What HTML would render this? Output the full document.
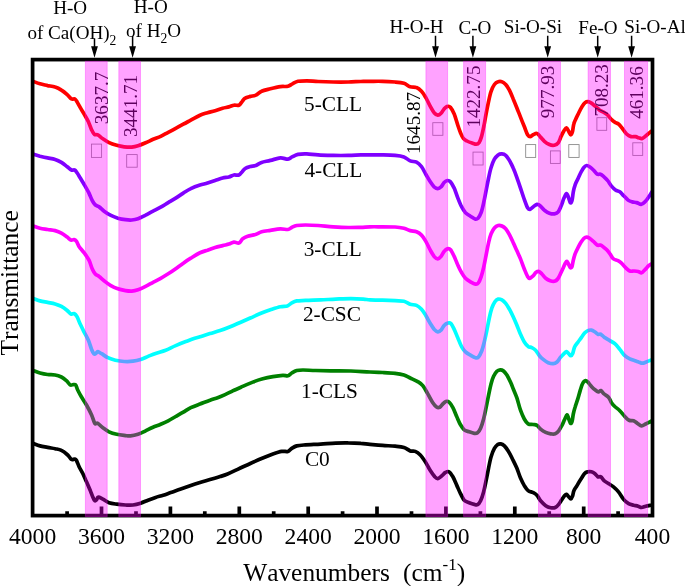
<!DOCTYPE html>
<html lang="en"><head><meta charset="utf-8"><title>FTIR spectra</title>
<style>
html,body{margin:0;padding:0;background:#fff;}
body{width:685px;height:586px;overflow:hidden;}
svg{display:block;}
text{font-family:"Liberation Serif","Times New Roman",serif;fill:#000;}
.a{font-size:19.1px;}
.l{font-size:21.3px;}
.t{font-size:23.6px;text-anchor:middle;}
.x{font-size:25.4px;font-kerning:none;}
</style></head><body>
<svg width="685" height="586" viewBox="0 0 685 586">
<rect width="685" height="586" fill="#fff"/>

<g fill="none" stroke-width="3.7" stroke-linejoin="round" stroke-linecap="butt">
<path stroke="#000000" d="M32.7 443.2C33.9 443.6 37.5 445.2 40.0 445.9C42.5 446.6 45.1 446.9 47.6 447.4C50.1 447.9 52.8 448.2 55.1 448.7C57.4 449.2 59.3 449.3 61.4 450.4C63.5 451.4 66.0 453.5 67.7 455.0C69.4 456.5 70.3 458.8 71.5 459.5C72.7 460.2 73.9 458.8 74.7 459.0C75.5 459.2 75.8 459.2 76.5 460.5C77.2 461.8 78.0 464.3 79.0 466.5C80.0 468.7 81.5 470.9 82.8 473.5C84.0 476.1 85.2 478.9 86.5 481.8C87.8 484.7 89.2 488.1 90.3 490.6C91.3 493.1 92.0 495.3 92.8 497.0C93.5 498.7 94.2 500.2 94.8 500.7C95.4 501.1 96.0 500.3 96.6 499.7C97.2 499.1 97.2 497.3 98.3 497.2C99.3 497.1 101.1 498.3 102.9 499.2C104.7 500.1 106.7 501.9 109.0 502.7C111.3 503.5 114.0 503.8 116.7 504.2C119.5 504.6 122.8 504.9 125.5 505.0C128.2 505.1 130.5 505.3 133.0 505.0C135.5 504.7 138.1 504.0 140.6 503.2C143.1 502.4 145.5 501.2 148.0 500.2C150.5 499.2 153.1 498.2 155.6 497.4C158.1 496.6 160.7 496.0 163.2 495.2C165.7 494.4 167.8 493.6 170.7 492.6C173.6 491.6 177.5 490.3 180.8 489.1C184.2 487.9 187.6 486.7 190.8 485.6C194.0 484.5 196.8 483.6 200.0 482.6C203.2 481.6 206.7 480.6 210.0 479.6C213.3 478.6 217.2 477.5 220.1 476.6C223.0 475.7 224.7 475.2 227.6 474.0C230.5 472.8 233.9 471.1 237.7 469.3C241.5 467.6 246.1 465.4 250.3 463.5C254.5 461.6 259.0 459.6 262.8 458.0C266.6 456.4 269.8 455.1 272.9 454.0C276.0 452.9 279.2 451.8 281.7 451.4C284.2 451.0 286.2 451.9 287.9 451.4C289.6 450.9 290.2 449.3 291.7 448.4C293.2 447.5 294.4 446.5 296.7 445.9C299.0 445.3 301.5 445.2 305.5 444.9C309.5 444.6 315.6 444.4 320.6 444.1C325.6 443.8 331.1 443.3 335.7 443.1C340.3 442.9 344.0 442.8 348.2 442.9C352.4 442.9 357.2 443.1 360.8 443.4C364.4 443.6 366.4 444.1 370.0 444.4C373.6 444.7 378.4 445.1 382.6 445.4C386.8 445.7 391.6 445.9 395.1 446.2C398.7 446.5 401.4 446.6 403.9 447.4C406.4 448.2 408.3 450.2 410.2 450.9C412.1 451.6 413.5 450.7 415.2 451.4C416.9 452.1 418.6 453.3 420.3 455.0C422.0 456.7 423.6 459.1 425.3 461.7C427.0 464.3 428.7 468.0 430.3 470.5C431.9 473.0 433.6 475.4 434.8 476.8C436.1 478.2 436.7 478.7 437.8 478.6C438.9 478.5 440.3 477.0 441.6 476.0C442.9 475.0 444.1 473.2 445.4 472.5C446.6 471.8 447.9 471.1 449.1 471.8C450.4 472.5 451.6 474.6 452.9 476.8C454.2 479.0 455.4 482.3 456.7 485.1C458.0 487.9 459.2 491.1 460.5 493.6C461.8 496.1 462.8 498.7 464.2 500.2C465.6 501.7 467.5 502.0 469.2 502.7C470.9 503.4 472.9 504.1 474.3 504.4C475.7 504.7 476.4 505.3 477.5 504.7C478.6 504.1 479.6 502.8 480.6 500.7C481.6 498.6 482.7 495.2 483.6 491.9C484.5 488.5 485.3 484.6 486.1 480.6C486.9 476.6 487.8 472.0 488.6 468.0C489.4 464.0 490.1 460.0 491.1 456.7C492.1 453.4 493.3 450.4 494.4 448.4C495.5 446.4 496.6 445.4 497.6 444.6C498.7 443.9 499.6 443.7 500.7 443.9C501.8 444.1 503.1 444.7 504.4 445.9C505.6 447.1 506.9 448.9 508.2 450.9C509.5 452.9 510.6 455.1 512.0 458.0C513.4 460.9 515.4 464.7 516.8 468.0C518.2 471.3 519.2 475.1 520.5 478.0C521.8 480.9 523.0 483.5 524.3 485.6C525.6 487.7 526.6 489.4 528.1 490.6C529.6 491.8 531.6 491.8 533.1 492.6C534.6 493.4 535.6 493.9 536.9 495.2C538.1 496.5 539.1 498.9 540.6 500.7C542.1 502.4 544.0 504.5 545.7 505.7C547.4 506.9 549.1 507.4 550.7 507.7C552.3 508.0 553.9 508.1 555.2 507.5C556.5 506.9 557.6 505.8 558.7 504.4C559.8 503.0 561.0 500.8 562.0 499.4C563.0 497.9 563.8 496.5 564.5 495.7C565.2 494.9 565.8 494.2 566.5 494.4C567.2 494.6 568.1 496.1 568.8 496.9C569.5 497.6 570.2 499.0 570.8 498.9C571.4 498.8 572.0 497.6 572.5 496.2C573.0 494.8 573.2 492.4 574.0 490.6C574.8 488.8 575.9 487.5 577.0 485.6C578.1 483.7 579.5 481.3 580.8 479.3C582.1 477.3 583.4 474.8 584.6 473.5C585.8 472.2 586.8 472.1 587.9 471.8C589.0 471.5 590.3 471.5 591.4 471.8C592.5 472.1 593.6 472.7 594.7 473.5C595.8 474.3 596.9 476.2 597.9 476.8C598.9 477.4 599.9 476.2 600.9 476.8C601.9 477.4 602.7 479.5 604.0 480.6C605.3 481.7 606.9 482.6 608.5 483.6C610.1 484.7 611.8 485.5 613.5 486.9C615.2 488.3 616.8 489.8 618.5 491.9C620.2 494.0 621.9 497.4 623.6 499.4C625.3 501.4 626.9 502.7 628.6 503.7C630.3 504.7 632.0 504.8 633.6 505.2C635.2 505.6 636.8 505.8 638.1 506.2C639.4 506.6 640.3 507.5 641.6 507.5C642.9 507.5 644.2 506.6 645.7 506.2C647.2 505.8 649.6 505.4 650.7 505.2C651.8 505.0 652.1 505.0 652.4 505.0"/>
<path stroke="#008000" d="M32.7 370.4C33.9 370.8 37.5 372.3 40.0 373.0C42.5 373.7 45.1 374.2 47.6 374.5C50.1 374.8 52.8 374.6 55.1 375.0C57.4 375.4 59.5 376.1 61.4 377.0C63.3 377.9 64.9 379.3 66.4 380.6C67.9 381.9 69.1 384.3 70.2 385.0C71.3 385.7 72.3 384.6 73.2 384.6C74.1 384.6 75.0 384.1 75.7 385.0C76.5 385.9 76.7 388.0 77.7 390.0C78.7 392.0 80.0 394.5 81.5 397.0C83.0 399.5 84.8 402.0 86.5 405.0C88.2 408.0 90.2 411.9 91.6 415.0C93.0 418.1 93.8 421.9 94.8 423.3C95.8 424.7 96.4 422.6 97.8 423.3C99.2 424.1 101.0 426.4 102.9 427.8C104.8 429.2 106.7 430.7 109.0 431.8C111.3 432.9 114.0 433.7 116.7 434.3C119.5 434.9 123.2 435.3 125.5 435.6C127.8 435.9 128.4 436.1 130.5 435.9C132.6 435.7 135.5 435.1 138.0 434.3C140.5 433.5 143.1 432.0 145.6 430.8C148.1 429.6 150.5 428.4 153.0 427.3C155.5 426.2 158.2 425.4 160.7 424.3C163.2 423.2 165.7 422.1 168.2 420.8C170.7 419.5 173.2 417.9 175.7 416.5C178.2 415.1 180.8 413.7 183.3 412.2C185.8 410.7 188.0 409.1 190.8 407.7C193.6 406.3 196.8 405.2 200.0 404.0C203.2 402.8 207.1 401.2 210.0 400.2C212.9 399.1 215.1 398.6 217.6 397.7C220.1 396.8 222.6 395.7 225.1 394.6C227.6 393.5 229.8 392.3 232.7 390.9C235.6 389.5 239.3 387.9 242.7 386.4C246.0 384.9 249.5 383.4 252.8 382.1C256.2 380.8 259.5 379.7 262.8 378.8C266.1 377.9 269.5 377.2 272.9 376.6C276.2 376.0 280.4 375.4 282.9 375.3C285.4 375.2 286.4 376.2 287.9 375.8C289.4 375.4 290.2 373.9 291.7 373.0C293.2 372.1 294.8 371.0 296.7 370.5C298.6 370.0 299.9 370.0 303.0 370.0C306.1 370.0 311.0 370.4 315.6 370.5C320.2 370.6 324.8 370.7 330.7 370.8C336.6 370.9 344.2 370.8 350.8 371.0C357.4 371.2 364.7 371.8 370.0 372.0C375.3 372.2 378.4 372.3 382.6 372.5C386.8 372.7 391.6 372.9 395.1 373.3C398.7 373.7 401.4 374.2 403.9 375.0C406.4 375.8 407.9 376.9 410.2 378.0C412.5 379.1 415.6 380.3 417.7 381.6C419.8 382.9 421.1 383.6 422.8 385.6C424.5 387.7 426.1 391.0 427.8 393.9C429.5 396.8 431.3 400.5 432.8 402.7C434.3 404.9 435.4 406.2 436.6 407.0C437.8 407.8 438.8 407.7 439.8 407.2C440.9 406.7 441.9 404.9 442.9 403.9C443.9 402.9 444.9 401.7 445.9 401.4C446.9 401.1 447.9 401.1 449.1 402.2C450.3 403.2 451.6 405.3 452.9 407.7C454.2 410.1 455.4 413.6 456.7 416.5C458.0 419.4 459.2 422.6 460.5 424.8C461.8 427.0 462.8 428.6 464.2 429.8C465.6 431.0 467.5 431.2 469.2 431.8C470.9 432.4 472.9 433.1 474.3 433.3C475.7 433.5 476.4 433.6 477.5 432.8C478.6 432.0 479.6 430.6 480.6 428.3C481.6 426.0 482.7 422.4 483.6 419.0C484.5 415.6 485.3 411.7 486.1 407.7C486.9 403.7 487.8 399.2 488.6 395.2C489.4 391.2 490.3 386.9 491.1 383.8C491.9 380.7 492.6 378.4 493.6 376.3C494.6 374.2 495.8 372.4 496.9 371.3C498.0 370.2 499.1 369.9 500.2 369.8C501.2 369.7 502.1 369.9 503.2 370.8C504.3 371.7 505.6 373.0 506.9 375.0C508.1 377.0 509.6 380.2 510.7 382.6C511.8 385.0 512.5 387.0 513.5 389.5C514.5 392.0 515.6 394.2 516.8 397.7C518.0 401.1 519.2 406.6 520.5 410.2C521.8 413.8 523.0 416.7 524.3 419.0C525.6 421.3 526.6 422.9 528.1 423.8C529.6 424.7 531.6 424.2 533.1 424.5C534.6 424.8 535.6 424.5 536.9 425.3C538.1 426.1 539.1 427.9 540.6 429.1C542.1 430.3 544.0 431.5 545.7 432.3C547.4 433.1 549.1 433.6 550.7 433.8C552.3 434.1 553.9 434.3 555.2 433.8C556.5 433.3 557.6 432.2 558.7 430.8C559.8 429.4 561.0 427.1 562.0 425.3C563.0 423.5 563.7 421.5 564.5 419.8C565.3 418.1 566.3 415.1 567.0 414.9C567.7 414.7 568.0 417.1 568.6 418.5C569.2 419.9 570.0 423.0 570.6 423.4C571.2 423.8 571.8 422.4 572.2 420.8C572.7 419.2 572.8 416.4 573.3 414.0C573.8 411.6 574.5 409.0 575.3 406.5C576.0 404.0 577.0 401.6 577.8 398.9C578.6 396.2 579.5 392.7 580.3 390.1C581.1 387.5 581.9 384.7 582.8 383.1C583.6 381.5 584.5 380.8 585.4 380.6C586.2 380.4 586.9 381.1 587.9 382.1C588.9 383.1 590.1 385.1 591.4 386.4C592.6 387.7 594.2 389.2 595.4 390.1C596.6 391.0 597.5 391.8 598.4 391.9C599.3 392.0 600.0 390.3 600.9 390.6C601.8 390.9 602.7 392.8 604.0 393.9C605.3 395.0 607.2 395.7 608.5 397.2C609.8 398.7 610.5 401.1 611.5 402.7C612.5 404.2 613.4 405.2 614.8 406.5C616.2 407.8 618.1 409.0 619.8 410.7C621.5 412.4 623.2 414.9 624.8 416.5C626.3 418.1 627.6 419.6 629.1 420.3C630.6 421.0 632.2 420.3 633.6 420.8C635.0 421.3 636.1 422.5 637.4 423.3C638.7 424.1 640.2 425.7 641.6 425.8C643.0 425.9 644.2 424.7 645.7 424.0C647.2 423.3 649.6 422.0 650.7 421.5C651.8 421.0 652.1 420.9 652.4 420.8"/>
<path stroke="#00ffff" d="M32.7 298.2C33.9 298.6 37.5 300.2 40.0 300.9C42.5 301.6 45.1 301.9 47.6 302.4C50.1 302.9 52.8 303.2 55.1 303.9C57.4 304.6 59.4 305.3 61.4 306.4C63.4 307.5 65.6 309.2 67.2 310.5C68.8 311.8 69.8 313.5 71.0 314.0C72.2 314.5 73.5 313.2 74.5 313.7C75.5 314.1 76.0 314.9 77.0 316.7C78.0 318.5 79.1 321.8 80.3 324.3C81.5 326.8 82.7 329.2 84.0 331.8C85.3 334.4 87.0 337.2 88.3 340.1C89.6 343.0 90.6 347.1 91.6 349.4C92.6 351.7 93.3 353.3 94.1 353.9C94.8 354.5 95.5 353.6 96.1 353.2C96.7 352.8 96.9 351.6 97.8 351.7C98.7 351.8 99.9 352.7 101.6 353.7C103.3 354.7 105.6 356.6 107.9 357.7C110.2 358.8 112.7 359.6 115.4 360.2C118.1 360.8 121.3 361.3 124.2 361.5C127.1 361.7 130.3 361.6 133.0 361.2C135.7 360.8 138.1 360.2 140.6 359.4C143.1 358.6 145.6 357.4 148.1 356.4C150.6 355.4 152.7 354.4 155.6 353.4C158.5 352.4 162.3 351.5 165.7 350.2C169.0 348.9 172.3 347.0 175.7 345.6C179.0 344.2 182.9 342.7 185.8 341.6C188.7 340.5 190.9 339.6 193.3 338.8C195.7 338.0 197.2 337.7 200.0 336.8C202.8 335.9 206.7 334.6 210.0 333.6C213.3 332.6 216.7 331.7 220.1 330.6C223.5 329.5 226.8 328.2 230.2 326.8C233.5 325.4 236.8 324.0 240.2 322.5C243.5 321.0 247.0 319.5 250.3 318.0C253.7 316.5 257.0 314.9 260.3 313.5C263.6 312.1 267.0 310.8 270.4 309.7C273.8 308.6 277.6 307.3 280.4 306.7C283.2 306.1 285.5 306.5 287.4 305.9C289.3 305.3 290.1 303.7 291.7 302.9C293.2 302.1 294.4 301.3 296.7 300.9C299.0 300.5 301.5 300.6 305.5 300.4C309.5 300.2 315.6 300.1 320.6 299.9C325.6 299.7 330.7 299.3 335.7 299.1C340.7 298.9 346.2 298.6 350.8 298.6C355.4 298.6 360.1 298.9 363.3 299.1C366.5 299.3 366.8 299.7 370.0 299.9C373.2 300.1 378.4 300.1 382.6 300.2C386.8 300.3 391.6 300.5 395.1 300.7C398.7 300.9 401.4 300.6 403.9 301.2C406.4 301.8 408.1 303.5 410.2 304.2C412.3 304.9 414.6 304.6 416.5 305.4C418.4 306.2 419.9 307.5 421.5 309.2C423.1 310.9 424.3 313.1 425.8 315.5C427.3 317.9 428.9 321.2 430.3 323.5C431.7 325.8 432.9 327.9 434.1 329.3C435.4 330.7 436.6 331.7 437.8 331.8C439.0 331.9 440.1 331.2 441.1 330.1C442.2 329.1 443.0 326.7 444.1 325.5C445.2 324.3 446.8 323.3 447.9 323.0C449.0 322.7 449.8 322.4 450.9 323.5C451.9 324.6 453.0 326.9 454.2 329.3C455.4 331.7 456.6 335.2 457.9 338.1C459.1 341.0 460.4 344.6 461.7 346.9C463.0 349.2 464.0 350.5 465.5 351.9C467.0 353.3 468.8 354.2 470.5 355.2C472.2 356.2 474.2 357.4 475.5 357.7C476.8 358.0 477.4 358.1 478.5 356.9C479.6 355.7 480.8 353.2 481.8 350.7C482.8 348.2 483.5 345.2 484.3 341.9C485.1 338.5 486.0 334.6 486.8 330.6C487.6 326.6 488.5 321.8 489.3 318.0C490.1 314.2 491.0 310.6 491.9 307.9C492.8 305.2 493.9 303.2 494.9 301.7C495.9 300.2 496.9 299.4 498.1 299.1C499.3 298.8 500.6 299.2 501.9 299.9C503.2 300.6 504.4 301.8 505.7 303.4C506.9 304.9 508.1 307.0 509.4 309.2C510.6 311.4 512.0 314.1 513.2 316.7C514.4 319.3 515.6 322.1 516.8 325.0C518.0 327.9 519.2 331.5 520.5 334.3C521.8 337.1 523.0 339.9 524.3 341.9C525.6 343.9 526.9 345.4 528.1 346.4C529.4 347.3 530.5 347.0 531.8 347.6C533.0 348.2 534.3 348.9 535.6 350.2C536.9 351.5 538.1 354.2 539.4 355.7C540.7 357.2 541.7 358.2 543.2 359.4C544.7 360.6 546.5 362.0 548.2 362.7C549.9 363.4 551.7 363.8 553.2 363.7C554.7 363.6 555.8 363.0 557.0 362.0C558.2 361.0 559.2 359.0 560.2 357.7C561.2 356.4 562.3 355.4 563.3 354.4C564.3 353.4 565.4 351.8 566.3 351.7C567.2 351.6 568.0 353.0 568.8 353.7C569.5 354.4 570.1 355.8 570.8 355.7C571.5 355.6 572.2 354.7 572.8 353.2C573.4 351.7 573.8 348.7 574.6 346.9C575.4 345.1 576.7 343.9 577.8 342.4C578.9 340.8 580.2 339.2 581.3 337.6C582.4 336.1 583.5 334.3 584.6 333.1C585.7 331.9 586.8 331.1 587.9 330.6C589.0 330.1 590.3 329.9 591.4 330.1C592.5 330.3 593.6 331.1 594.7 331.8C595.8 332.5 596.9 333.9 597.9 334.3C598.9 334.7 599.8 333.8 600.9 334.3C602.0 334.9 603.2 336.6 604.7 337.6C606.2 338.7 608.0 339.6 609.7 340.6C611.4 341.6 613.1 342.1 614.8 343.6C616.5 345.1 618.1 347.4 619.8 349.4C621.5 351.4 623.1 354.1 624.8 355.7C626.5 357.3 628.1 358.1 629.8 358.9C631.5 359.7 633.4 360.2 634.9 360.7C636.4 361.2 637.4 361.6 638.6 362.0C639.9 362.4 641.1 363.2 642.4 363.2C643.7 363.2 644.8 362.5 646.2 362.0C647.6 361.5 649.7 360.6 650.7 360.2C651.7 359.8 652.1 359.9 652.4 359.8"/>
<path stroke="#ff00ff" d="M32.7 225.9C33.9 226.3 37.5 227.7 40.0 228.3C42.5 228.9 45.1 229.1 47.6 229.5C50.1 229.9 52.8 230.0 55.1 230.6C57.4 231.2 59.4 232.0 61.4 233.1C63.4 234.2 65.6 235.9 67.2 237.1C68.8 238.3 69.9 239.7 71.0 240.1C72.1 240.5 73.1 239.4 74.0 239.6C74.9 239.8 75.7 240.3 76.5 241.4C77.3 242.5 77.8 244.5 79.0 246.4C80.2 248.3 82.3 250.4 84.0 252.7C85.7 255.0 87.6 257.5 89.0 260.2C90.4 262.9 91.2 266.7 92.3 269.0C93.3 271.3 94.2 272.8 95.3 274.0C96.4 275.2 97.6 275.4 99.1 276.5C100.6 277.6 102.2 279.3 104.1 280.8C106.0 282.3 108.1 284.0 110.4 285.3C112.7 286.6 115.4 287.9 117.9 288.8C120.4 289.7 123.2 290.2 125.5 290.6C127.8 291.0 129.7 291.2 131.8 291.1C133.9 291.0 135.7 290.6 138.0 289.8C140.3 289.0 143.1 287.6 145.6 286.3C148.1 285.1 150.6 283.6 153.1 282.3C155.6 281.0 158.2 279.7 160.7 278.3C163.2 276.9 165.7 275.4 168.2 273.8C170.7 272.2 173.2 270.5 175.7 268.7C178.2 266.9 180.8 264.9 183.3 263.2C185.8 261.4 188.0 259.9 190.8 258.2C193.6 256.4 197.2 254.0 200.0 252.7C202.8 251.4 205.0 251.0 207.5 250.2C210.0 249.3 212.6 248.4 215.1 247.6C217.6 246.8 220.3 246.2 222.6 245.6C224.9 245.0 227.0 244.7 228.9 244.1C230.8 243.5 232.2 242.3 233.9 242.1C235.6 241.9 237.4 243.6 238.9 243.1C240.4 242.6 241.2 239.9 242.7 238.8C244.2 237.7 245.6 237.0 247.7 236.3C249.8 235.6 253.0 235.3 255.3 234.6C257.6 233.8 259.1 232.5 261.6 231.8C264.1 231.1 267.3 230.8 270.4 230.3C273.5 229.8 277.5 228.9 280.4 228.8C283.3 228.7 286.0 229.7 287.9 229.5C289.8 229.3 290.2 228.2 291.7 227.5C293.2 226.8 294.4 225.9 296.7 225.5C299.0 225.1 301.9 225.0 305.5 225.0C309.1 225.0 313.5 225.2 318.1 225.5C322.7 225.8 328.2 226.5 333.2 226.8C338.2 227.1 343.6 227.4 348.2 227.5C352.8 227.6 357.2 227.4 360.8 227.3C364.4 227.2 366.4 226.9 370.0 226.8C373.6 226.7 378.4 226.8 382.6 226.8C386.8 226.8 391.6 226.8 395.1 227.0C398.7 227.2 401.4 227.7 403.9 228.3C406.4 228.9 408.1 230.0 410.2 230.6C412.3 231.2 414.6 231.1 416.5 231.8C418.4 232.6 419.9 233.5 421.5 235.1C423.1 236.7 424.3 238.9 425.8 241.4C427.3 243.9 428.9 247.7 430.3 250.2C431.7 252.7 432.9 254.9 434.1 256.4C435.4 257.8 436.6 258.9 437.8 258.9C439.0 258.9 440.1 257.6 441.1 256.4C442.2 255.1 443.1 252.7 444.1 251.4C445.2 250.2 446.3 249.2 447.4 248.9C448.4 248.6 449.3 248.3 450.4 249.6C451.5 250.8 452.9 253.8 454.2 256.4C455.4 259.0 456.6 262.5 457.9 265.2C459.1 267.9 460.4 270.6 461.7 272.8C463.0 275.0 464.0 276.8 465.5 278.3C467.0 279.8 468.8 280.8 470.5 281.8C472.2 282.8 474.2 283.9 475.5 284.1C476.8 284.3 477.4 284.2 478.3 283.0C479.2 281.8 480.2 279.4 481.1 276.8C482.0 274.2 482.8 271.3 483.6 267.7C484.4 264.1 485.3 259.4 486.1 255.2C486.9 251.0 487.8 246.2 488.6 242.6C489.4 239.0 490.1 236.2 491.1 233.8C492.1 231.4 493.2 229.4 494.4 228.0C495.6 226.6 496.9 225.8 498.1 225.5C499.4 225.2 500.6 225.4 501.9 226.0C503.2 226.6 504.4 227.4 505.7 228.8C506.9 230.2 508.1 232.3 509.4 234.6C510.6 236.9 512.0 239.9 513.2 242.6C514.5 245.3 515.7 248.1 516.9 250.8C518.1 253.5 519.3 255.9 520.5 258.9C521.7 261.9 523.1 266.1 524.3 269.0C525.5 271.9 526.7 274.9 527.6 276.5C528.5 278.1 528.9 278.4 529.8 278.3C530.7 278.2 532.0 276.8 533.1 275.8C534.2 274.8 535.1 273.0 536.1 272.3C537.1 271.6 537.9 271.2 538.9 271.5C539.9 271.8 540.8 272.9 541.9 274.0C543.0 275.1 544.3 277.2 545.7 278.3C547.1 279.4 548.7 280.3 550.2 280.8C551.7 281.3 553.2 281.6 554.5 281.3C555.8 281.0 556.7 280.3 557.7 279.0C558.7 277.7 559.8 275.2 560.7 273.3C561.6 271.4 562.5 269.4 563.3 267.7C564.1 266.0 564.7 264.2 565.3 263.2C565.9 262.2 566.4 261.2 567.0 261.5C567.6 261.8 568.2 263.7 568.8 264.7C569.3 265.7 569.8 267.4 570.3 267.7C570.8 268.0 571.5 267.8 572.0 266.5C572.5 265.2 572.8 262.3 573.3 260.2C573.8 258.1 574.4 255.9 575.1 253.9C575.9 251.9 576.8 250.0 577.8 248.1C578.8 246.2 579.8 244.2 580.8 242.6C581.8 241.0 582.9 239.2 583.9 238.3C584.9 237.4 585.6 237.1 586.6 237.1C587.6 237.1 588.5 237.6 589.6 238.3C590.7 239.0 592.1 240.3 593.4 241.4C594.7 242.5 596.0 244.5 597.2 245.1C598.4 245.7 599.4 244.8 600.4 245.1C601.4 245.4 602.4 246.2 603.5 247.1C604.6 247.9 606.0 248.9 607.2 250.2C608.4 251.5 609.5 253.2 610.5 254.7C611.5 256.1 612.2 257.9 613.5 258.9C614.8 259.9 616.7 260.0 618.0 260.7C619.3 261.4 620.2 262.0 621.5 263.2C622.8 264.4 624.2 266.4 625.6 267.7C627.0 269.0 628.4 270.4 629.8 271.0C631.2 271.6 632.7 270.9 634.1 271.0C635.5 271.1 636.9 271.2 638.1 271.5C639.4 271.8 640.5 273.1 641.6 272.8C642.7 272.5 643.7 270.9 644.9 269.7C646.1 268.5 647.7 266.6 648.7 265.7C649.8 264.8 650.6 264.4 651.2 264.0C651.8 263.6 652.2 263.4 652.4 263.3"/>
<path stroke="#8000ff" d="M32.7 154.0C33.9 154.4 37.5 155.5 40.0 156.2C42.5 156.8 45.1 157.4 47.6 157.9C50.1 158.4 52.8 158.7 55.1 159.4C57.4 160.2 59.4 161.2 61.4 162.4C63.4 163.6 65.5 165.4 67.2 166.7C68.9 168.0 70.2 169.4 71.5 170.0C72.8 170.6 73.8 169.5 74.7 170.0C75.7 170.5 76.3 171.7 77.2 173.0C78.1 174.3 79.0 175.9 80.3 178.0C81.6 180.1 83.3 183.1 84.8 185.6C86.2 188.1 87.8 190.6 89.0 193.1C90.2 195.6 91.2 198.6 92.3 200.6C93.3 202.6 94.2 203.8 95.3 204.9C96.4 206.0 97.6 205.9 99.1 206.9C100.6 207.9 102.2 209.8 104.1 211.2C106.0 212.6 108.1 214.0 110.4 215.2C112.7 216.4 115.4 217.4 117.9 218.2C120.4 218.9 123.2 219.4 125.5 219.7C127.8 220.0 129.7 220.2 131.8 220.0C133.9 219.8 135.7 219.5 138.0 218.7C140.3 217.9 143.1 216.4 145.6 215.2C148.1 213.9 150.6 212.5 153.1 211.2C155.6 209.9 158.2 208.6 160.7 207.2C163.2 205.8 165.7 204.1 168.2 202.6C170.7 201.1 173.2 199.7 175.7 198.1C178.2 196.5 180.8 194.7 183.3 193.1C185.8 191.5 188.0 189.9 190.8 188.6C193.6 187.2 197.2 185.9 200.0 185.0C202.8 184.1 205.0 183.8 207.5 183.0C210.0 182.2 212.6 181.3 215.1 180.5C217.6 179.7 220.3 178.6 222.6 178.0C224.9 177.4 227.0 177.5 228.9 177.0C230.8 176.5 232.2 175.3 233.9 175.0C235.6 174.7 237.5 175.6 238.9 175.0C240.3 174.4 241.1 172.8 242.2 171.7C243.2 170.6 243.8 169.4 245.2 168.5C246.5 167.6 248.5 167.0 250.3 166.5C252.1 166.0 253.9 166.2 255.8 165.5C257.7 164.8 259.2 163.2 261.6 162.4C264.0 161.6 267.3 161.2 270.4 160.4C273.5 159.7 277.5 158.1 280.4 157.9C283.3 157.7 285.9 159.4 287.9 159.2C289.9 159.0 290.8 157.5 292.5 156.7C294.2 155.9 295.6 154.9 298.0 154.4C300.4 153.9 303.4 153.8 306.8 153.9C310.2 154.0 313.7 154.7 318.1 154.9C322.5 155.2 328.2 155.3 333.2 155.4C338.2 155.5 343.6 155.5 348.2 155.4C352.8 155.3 357.2 155.0 360.8 154.9C364.4 154.8 366.4 154.9 370.0 154.9C373.6 154.9 378.4 154.8 382.6 154.9C386.8 155.0 391.6 155.1 395.1 155.4C398.7 155.7 401.4 156.0 403.9 156.9C406.4 157.8 408.1 160.0 410.2 160.9C412.3 161.8 414.6 161.2 416.5 162.2C418.4 163.2 419.9 164.7 421.5 166.7C423.1 168.7 424.3 171.7 425.8 174.2C427.3 176.7 428.9 179.7 430.3 181.8C431.7 183.9 432.9 185.7 434.1 186.8C435.4 187.9 436.6 188.6 437.8 188.6C439.0 188.6 440.1 187.8 441.1 186.8C442.2 185.8 443.1 183.6 444.1 182.5C445.2 181.4 446.3 180.6 447.4 180.5C448.4 180.4 449.3 180.5 450.4 181.8C451.5 183.1 452.9 185.4 454.2 188.1C455.4 190.8 456.6 195.0 457.9 198.1C459.1 201.2 460.4 204.5 461.7 206.9C463.0 209.3 464.0 211.1 465.5 212.7C467.0 214.2 468.9 215.1 470.5 216.2C472.1 217.2 473.8 218.7 475.0 219.0C476.2 219.3 477.0 219.2 478.0 218.2C479.0 217.1 480.2 215.2 481.1 212.7C482.0 210.2 482.8 206.8 483.6 203.1C484.4 199.4 485.3 194.8 486.1 190.6C486.9 186.4 487.8 181.8 488.6 178.0C489.4 174.2 490.1 170.6 491.1 167.5C492.1 164.4 493.2 161.3 494.4 159.2C495.6 157.1 496.9 155.8 498.1 154.9C499.4 154.0 500.6 153.8 501.9 153.9C503.2 154.0 504.4 154.3 505.7 155.4C506.9 156.5 508.1 158.3 509.4 160.4C510.6 162.5 512.0 165.1 513.2 168.0C514.5 170.9 515.7 174.2 516.9 177.6C518.1 180.9 519.3 184.5 520.5 188.1C521.7 191.7 523.1 196.1 524.3 199.4C525.5 202.7 526.6 206.0 527.6 207.7C528.6 209.4 529.2 209.5 530.1 209.4C531.0 209.3 532.0 207.7 533.1 206.9C534.2 206.1 535.7 204.6 536.9 204.4C538.1 204.2 538.9 204.7 540.1 205.7C541.4 206.7 542.9 208.9 544.4 210.2C545.9 211.4 547.7 212.6 549.4 213.2C551.1 213.8 553.0 214.1 554.5 213.9C556.0 213.7 557.1 213.3 558.2 211.9C559.3 210.5 560.2 208.0 561.2 205.7C562.2 203.4 563.1 200.1 564.0 198.1C564.9 196.1 565.8 193.8 566.5 193.6C567.2 193.4 567.7 195.4 568.3 196.9C568.9 198.4 569.7 202.0 570.3 202.6C570.9 203.2 571.5 202.4 572.0 200.6C572.5 198.8 572.8 194.5 573.3 191.8C573.8 189.1 574.5 186.6 575.3 184.3C576.1 182.0 577.3 180.1 578.3 178.0C579.3 175.9 580.3 173.5 581.3 171.7C582.3 169.9 583.2 168.2 584.1 167.2C585.0 166.2 585.7 165.6 586.6 165.5C587.5 165.4 588.5 165.9 589.6 166.7C590.7 167.4 592.1 168.8 593.4 170.0C594.7 171.2 596.0 173.5 597.2 174.2C598.4 174.9 599.3 173.8 600.4 174.2C601.5 174.6 602.7 175.7 604.0 176.8C605.3 177.9 606.8 179.4 608.0 181.0C609.2 182.6 610.2 184.6 611.5 186.1C612.8 187.6 614.1 189.1 615.5 190.1C616.9 191.1 618.4 190.9 619.8 191.8C621.1 192.7 622.2 194.2 623.6 195.6C625.0 197.0 626.7 199.0 628.1 200.1C629.5 201.2 630.9 201.5 632.3 201.9C633.7 202.3 635.1 202.2 636.6 202.6C638.1 203.0 639.7 204.5 641.1 204.4C642.5 204.3 643.6 203.2 644.9 201.9C646.2 200.7 647.7 198.4 648.7 196.9C649.8 195.4 650.6 194.0 651.2 193.1C651.8 192.2 652.2 191.6 652.4 191.3"/>
<path stroke="#ff0000" d="M32.7 81.2C33.9 81.6 37.5 83.1 40.0 83.8C42.5 84.5 45.1 85.0 47.6 85.6C50.1 86.1 52.8 86.3 55.1 87.1C57.4 87.8 59.4 88.8 61.4 90.1C63.4 91.3 65.5 93.1 67.2 94.6C68.9 96.1 70.2 98.2 71.5 98.9C72.8 99.6 73.8 98.4 74.7 98.9C75.7 99.4 76.3 100.6 77.2 102.1C78.1 103.6 79.2 105.7 80.3 107.7C81.4 109.7 82.7 111.6 84.0 113.9C85.3 116.2 87.0 118.8 88.3 121.5C89.6 124.2 90.5 127.6 91.6 129.8C92.6 132.0 93.6 133.7 94.6 134.5C95.6 135.3 96.4 134.1 97.8 134.8C99.2 135.5 101.0 137.5 102.9 138.8C104.8 140.1 106.8 141.5 109.1 142.6C111.4 143.7 114.2 144.6 116.7 145.3C119.2 146.0 121.7 146.5 124.2 146.8C126.7 147.1 129.5 147.3 131.8 147.1C134.1 146.9 135.7 146.5 138.0 145.8C140.3 145.1 143.1 143.9 145.6 142.8C148.1 141.7 150.6 140.4 153.1 139.3C155.6 138.2 158.2 137.5 160.7 136.3C163.2 135.1 165.7 133.6 168.2 132.3C170.7 131.0 173.2 129.7 175.7 128.3C178.2 127.0 180.8 125.6 183.3 124.2C185.8 122.8 188.0 121.7 190.8 120.2C193.6 118.7 197.2 116.5 200.0 115.2C202.8 114.0 205.0 113.5 207.5 112.7C210.0 112.0 212.6 111.5 215.1 110.7C217.6 110.0 220.3 108.8 222.6 108.2C224.9 107.6 227.0 107.4 228.9 106.9C230.8 106.4 232.2 105.5 233.9 105.2C235.6 104.9 237.5 105.8 238.9 105.2C240.3 104.6 241.1 102.6 242.2 101.4C243.2 100.2 243.8 98.9 245.2 98.1C246.5 97.3 248.5 96.9 250.3 96.4C252.1 95.9 253.9 95.9 255.8 95.1C257.7 94.2 259.2 92.3 261.6 91.3C264.0 90.2 267.3 89.6 270.4 88.8C273.5 88.0 277.5 87.0 280.4 86.6C283.3 86.2 285.9 86.8 287.9 86.3C289.9 85.8 290.8 84.6 292.5 83.8C294.2 83.0 295.6 81.8 298.0 81.3C300.4 80.8 303.4 80.8 306.8 80.8C310.2 80.8 313.7 81.3 318.1 81.5C322.5 81.7 328.2 81.9 333.2 82.0C338.2 82.1 343.6 82.1 348.2 82.0C352.8 81.9 357.2 81.6 360.8 81.5C364.4 81.4 366.4 81.3 370.0 81.3C373.6 81.3 378.4 81.2 382.6 81.3C386.8 81.4 391.6 81.7 395.1 82.0C398.7 82.3 401.4 82.5 403.9 83.3C406.4 84.1 408.1 86.1 410.2 86.8C412.3 87.5 414.6 86.8 416.5 87.6C418.4 88.3 419.9 89.6 421.5 91.3C423.1 93.0 424.3 95.1 425.8 97.6C427.3 100.1 428.9 103.9 430.3 106.4C431.7 108.9 432.9 111.2 434.1 112.7C435.4 114.2 436.6 115.1 437.8 115.2C439.0 115.3 440.1 114.2 441.1 113.2C442.2 112.2 443.1 110.0 444.1 108.9C445.2 107.8 446.3 106.7 447.4 106.4C448.4 106.1 449.3 106.0 450.4 107.2C451.5 108.5 452.9 110.9 454.2 113.9C455.4 117.0 456.8 122.2 457.9 125.5C459.0 128.8 459.9 131.3 460.8 133.5C461.7 135.7 462.3 137.2 463.3 138.4C464.3 139.7 465.6 140.2 467.0 141.0C468.4 141.8 470.4 142.5 472.0 143.0C473.6 143.5 475.1 144.2 476.3 144.2C477.5 144.2 478.1 144.1 479.0 142.8C479.9 141.5 480.7 139.3 481.5 136.6C482.3 133.9 483.0 130.3 483.8 126.5C484.6 122.7 485.3 118.1 486.1 113.9C486.9 109.7 487.8 105.2 488.6 101.4C489.4 97.6 490.1 94.1 491.1 91.3C492.1 88.5 493.2 86.1 494.4 84.5C495.6 82.9 496.9 82.2 498.1 81.8C499.4 81.3 500.6 81.3 501.9 81.8C503.2 82.2 504.4 83.1 505.7 84.5C506.9 85.9 508.1 87.7 509.4 90.1C510.6 92.5 512.0 95.9 513.2 98.9C514.5 101.9 515.7 104.9 516.9 108.0C518.1 111.1 519.4 114.2 520.6 117.3C521.8 120.4 523.1 123.6 524.3 126.5C525.5 129.4 526.6 133.1 527.6 134.8C528.6 136.5 529.2 136.6 530.1 136.6C531.0 136.6 532.0 135.3 533.1 134.8C534.2 134.3 535.7 133.2 536.9 133.5C538.1 133.8 538.9 135.3 540.1 136.6C541.4 137.9 542.9 140.0 544.4 141.3C545.9 142.6 547.8 143.8 549.4 144.5C551.0 145.2 552.8 145.5 554.3 145.2C555.8 144.9 557.1 144.3 558.2 142.8C559.4 141.3 560.2 138.2 561.2 136.2C562.2 134.2 563.1 132.2 564.0 130.8C564.9 129.4 565.7 127.7 566.5 127.8C567.3 127.9 568.1 130.3 568.8 131.5C569.5 132.7 570.2 134.8 570.8 134.8C571.4 134.8 572.0 133.3 572.5 131.5C573.0 129.7 573.2 126.1 573.8 124.0C574.3 121.9 575.0 120.9 575.8 119.0C576.6 117.1 577.8 114.8 578.8 112.7C579.8 110.6 581.0 108.1 582.1 106.4C583.2 104.7 584.1 103.4 585.1 102.6C586.1 101.8 586.9 101.5 587.9 101.6C588.9 101.7 590.1 102.3 591.4 103.1C592.6 103.9 594.0 105.2 595.4 106.4C596.8 107.6 598.4 109.2 599.7 110.2C601.1 111.2 602.2 111.5 603.5 112.2C604.8 113.0 606.0 113.6 607.2 114.7C608.5 115.8 609.7 117.8 611.0 119.0C612.3 120.2 613.5 121.4 614.8 122.2C616.0 123.0 617.2 123.0 618.5 124.0C619.8 125.0 620.9 126.6 622.3 128.3C623.6 130.0 625.1 132.6 626.6 134.0C628.1 135.4 629.6 136.2 631.1 136.6C632.6 137.0 634.4 136.4 635.6 136.6C636.9 136.8 637.6 137.5 638.6 137.8C639.6 138.1 640.9 138.8 641.9 138.6C642.9 138.4 643.8 137.5 644.9 136.6C646.0 135.7 647.7 134.2 648.7 133.3C649.8 132.5 650.6 132.0 651.2 131.5C651.8 131.0 652.2 130.7 652.4 130.5"/>
</g>
<rect x="32.6" y="59.6" width="619.9" height="456.0" fill="none" stroke="#000" stroke-width="3.7"/>
<path d="M101.5 515.6V506.5M170.4 515.6V506.5M239.3 515.6V506.5M308.2 515.6V506.5M377.0 515.6V506.5M445.9 515.6V506.5M514.8 515.6V506.5M583.7 515.6V506.5M67.1 515.6V511.3M136.0 515.6V511.3M204.8 515.6V511.3M273.7 515.6V511.3M342.6 515.6V511.3M411.5 515.6V511.3M480.4 515.6V511.3M549.2 515.6V511.3M618.1 515.6V511.3" stroke="#000" stroke-width="3.7" fill="none"/>
<text class="t" x="32.6" y="544.0">4000</text>
<text class="t" x="101.5" y="544.0">3600</text>
<text class="t" x="170.4" y="544.0">3200</text>
<text class="t" x="239.3" y="544.0">2800</text>
<text class="t" x="308.2" y="544.0">2400</text>
<text class="t" x="377.0" y="544.0">2000</text>
<text class="t" x="445.9" y="544.0">1600</text>
<text class="t" x="514.8" y="544.0">1200</text>
<text class="t" x="583.7" y="544.0">800</text>
<text class="t" x="652.5" y="544.0">400</text>
<text class="x" y="580.7"><tspan x="243.2">Wavenumbers </tspan><tspan x="403.0">(cm</tspan><tspan font-size="17" dy="-10.8">-1</tspan><tspan dy="10.8">)</tspan></text>
<text class="x" transform="translate(18.3 355.5) rotate(-90)">Transmittance</text>
<text class="l" x="304.1" y="111.0">5-CLL</text>
<text class="l" x="304.4" y="177.1">4-CLL</text>
<text class="l" x="303.7" y="256.0">3-CLL</text>
<text class="l" x="302.9" y="320.5">2-CSC</text>
<text class="l" x="301.0" y="397.7">1-CLS</text>
<text class="l" x="304.9" y="466.3">C0</text>
<text class="a" x="53.2" y="14.2">H-O</text>
<text class="a" x="27.4" y="38.8">of Ca(OH)<tspan font-size="13.6" dy="5.7">2</tspan></text>
<text class="a" x="133.8" y="12.6">H-O</text>
<text class="a" x="126" y="37.4">of H<tspan font-size="13.6" dy="5.7">2</tspan><tspan dy="-5.7">O</tspan></text>
<text class="a" x="389.5" y="33.3">H-O-H</text>
<text class="a" x="458.4" y="33.8">C-O</text>
<text class="a" x="503.8" y="33.2">Si-O-Si</text>
<text class="a" x="578.3" y="33.6">Fe-O</text>
<text class="a" x="624.3" y="33.1">Si-O-Al</text>
<path d="M94.5 38.5V48M132.6 36.0V48M435.5 35.7V48M472.9 35.7V48M547.7 35.7V48M597.7 35.7V48M631.6 35.7V48" stroke="#000" stroke-width="1.5" fill="none"/>
<path d="M94.5 57.8L91.1 46.2L97.9 46.2ZM132.6 57.8L129.2 46.2L136.0 46.2ZM435.5 57.8L432.1 46.2L438.9 46.2ZM472.9 57.8L469.5 46.2L476.3 46.2ZM547.7 57.8L544.3 46.2L551.1 46.2ZM597.7 57.8L594.3 46.2L601.1 46.2ZM631.6 57.8L628.2 46.2L635.0 46.2Z" fill="#000"/>
<text class="a" transform="translate(108.0 124.2) rotate(-90)">3637.7</text>
<text class="a" transform="translate(137.3 137.0) rotate(-90)">3441.71</text>
<text class="a" transform="translate(420.0 154.0) rotate(-90)">1645.87</text>
<text class="a" transform="translate(480.0 127.6) rotate(-90)">1422.75</text>
<text class="a" transform="translate(553.6 118.2) rotate(-90)">977.93</text>
<text class="a" transform="translate(608.0 116.6) rotate(-90)">708.23</text>
<text class="a" transform="translate(642.6 118.8) rotate(-90)">461.36</text>
<rect x="91.5" y="144.1" width="10.1" height="13.3" fill="none" stroke="#858585" stroke-width="0.85"/>
<rect x="126.7" y="154.6" width="10.5" height="12.6" fill="none" stroke="#858585" stroke-width="0.85"/>
<rect x="432.8" y="122.7" width="10.1" height="12.6" fill="none" stroke="#858585" stroke-width="0.85"/>
<rect x="473.0" y="152.1" width="10.1" height="12.9" fill="none" stroke="#858585" stroke-width="0.85"/>
<rect x="525.7" y="144.6" width="10.0" height="12.8" fill="none" stroke="#858585" stroke-width="0.85"/>
<rect x="550.4" y="150.9" width="9.8" height="12.5" fill="none" stroke="#858585" stroke-width="0.85"/>
<rect x="568.8" y="144.6" width="10.3" height="12.8" fill="none" stroke="#858585" stroke-width="0.85"/>
<rect x="596.9" y="117.7" width="9.8" height="12.6" fill="none" stroke="#858585" stroke-width="0.85"/>
<rect x="632.8" y="142.8" width="9.9" height="12.6" fill="none" stroke="#858585" stroke-width="0.85"/>
<rect x="85.4" y="61.3" width="21.8" height="455.2" fill="#ff00ff" fill-opacity="0.365" stroke="#ff00ff" stroke-opacity="0.3" stroke-width="1"/>
<rect x="118.8" y="61.3" width="21.7" height="455.2" fill="#ff00ff" fill-opacity="0.365" stroke="#ff00ff" stroke-opacity="0.3" stroke-width="1"/>
<rect x="425.9" y="61.3" width="21.7" height="455.2" fill="#ff00ff" fill-opacity="0.365" stroke="#ff00ff" stroke-opacity="0.3" stroke-width="1"/>
<rect x="463.6" y="61.3" width="22.0" height="455.2" fill="#ff00ff" fill-opacity="0.365" stroke="#ff00ff" stroke-opacity="0.3" stroke-width="1"/>
<rect x="538.5" y="61.3" width="22.0" height="455.2" fill="#ff00ff" fill-opacity="0.365" stroke="#ff00ff" stroke-opacity="0.3" stroke-width="1"/>
<rect x="588.1" y="61.3" width="22.4" height="455.2" fill="#ff00ff" fill-opacity="0.365" stroke="#ff00ff" stroke-opacity="0.3" stroke-width="1"/>
<rect x="624.5" y="61.3" width="23.1" height="455.2" fill="#ff00ff" fill-opacity="0.365" stroke="#ff00ff" stroke-opacity="0.3" stroke-width="1"/>
</svg></body></html>
